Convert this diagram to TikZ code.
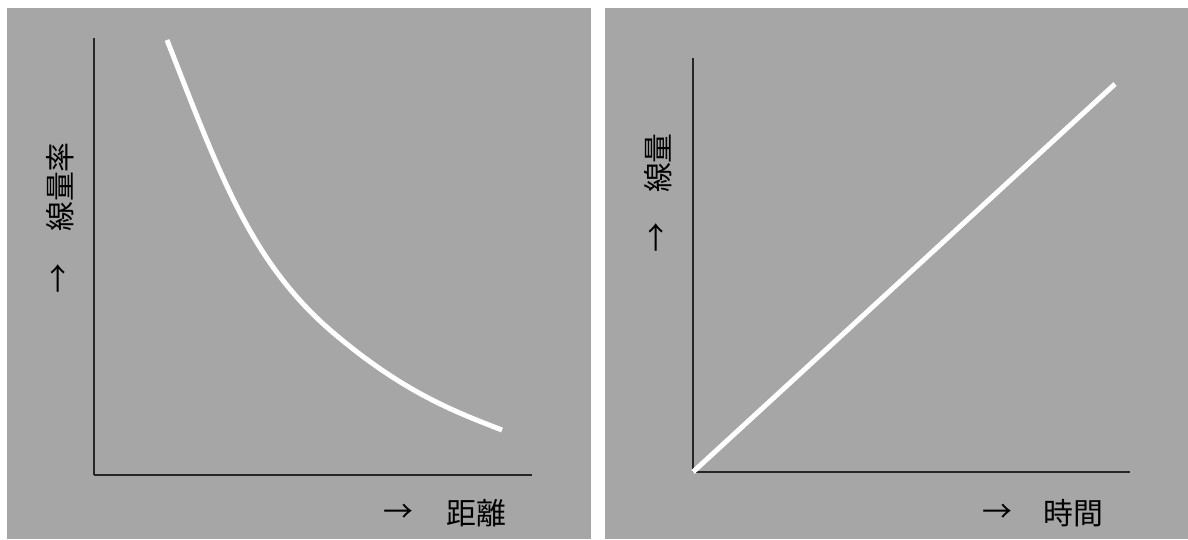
\documentclass[tikz,border=0pt]{standalone}
\usepackage{fontspec}
\setmainfont{Noto Sans CJK JP}
\usepackage{tikz}
\definecolor{panelgray}{RGB}{166,166,166}
\definecolor{axisgray}{RGB}{38,38,38}

\begin{document}
\begin{tikzpicture}
		[x=0.2mm,y=-0.2mm,every node/.style={inner sep=0pt,font=\fontsize{17}{20}\selectfont}]
		\useasboundingbox (0,0) rectangle (1188,539);
		\fill[panelgray] (7,8) rectangle (591,539);
		\fill[panelgray] (605,8) rectangle (1188,539);
		%left panel: dose rate vs distance
		\coordinate (top1) at (94,38);
		\coordinate (o1) at (94,475);
		\coordinate (end1) at (532,475);
		\coordinate (start1) at (167,40);
		\coordinate (tail1) at (502,430);
		\foreach \from/\to in {top1/o1,o1/end1}
		\draw[line width=0.45mm,axisgray]  (\from) -- (\to);
		\draw[line width=1mm,white] (start1) .. controls (220,175) and (250,260) .. (330,330) .. controls (400,390) and (450,410) .. (tail1);
		\node[rotate=90] (yarr1) at (60,279) {→};
		\node[rotate=90] (ylab1) at (60,187) {線量率};
		\node (xarr1) at (398,513) {→};
		\node (xlab1) at (476,513) {距離};
		%right panel: dose vs time
		\coordinate (top2) at (693,58);
		\coordinate (o2) at (693,472);
		\coordinate (end2) at (1130,472);
		\coordinate (tip2) at (1115,84);
		\foreach \from/\to in {top2/o2,o2/end2}
		\draw[line width=0.45mm,axisgray]  (\from) -- (\to);
		\draw[line width=1mm,white]  (o2) -- (tip2);
		\node[rotate=90] (yarr2) at (658,238) {→};
		\node[rotate=90] (ylab2) at (658,163) {線量};
		\node (xarr2) at (997,513) {→};
		\node (xlab2) at (1073,513) {時間};
	\end{tikzpicture}
\end{document}
